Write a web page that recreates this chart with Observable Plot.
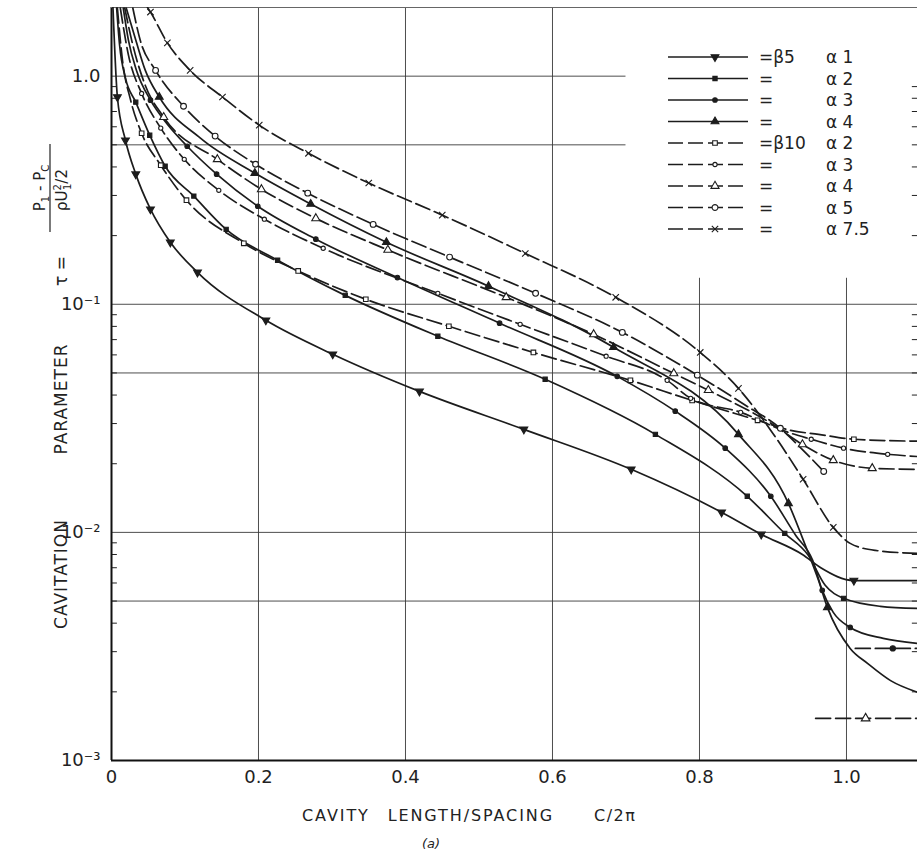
<!DOCTYPE html>
<html>
<head>
<meta charset="utf-8">
<script src="https://cdn.jsdelivr.net/npm/d3@7"></script>
<script src="https://cdn.jsdelivr.net/npm/@observablehq/plot@0.6"></script>
<style>
html,body{margin:0;padding:0;background:#fff;overflow:hidden;}
#chart svg{display:block;}
</style>
</head>
<body>
<div id="chart"></div>
<script>
// ---------- axis / grid values ----------
const xTicks = [0, 0.2, 0.4, 0.6, 0.8, 1.0];
const xTickLabels = ["0", "0.2", "0.4", "0.6", "0.8", "1.0"];
const yTicks = [1, 0.1, 0.01, 0.001];
const yTickLabels = ["1.0", "10\u207B\u00B9", "10\u207B\u00B2", "10\u207B\u00B3"];
const xGrid = [0.2, 0.4, 0.6, 0.8, 1.0];
const yGrid = [1, 0.5, 0.1, 0.05, 0.01, 0.005];
const xDomain = [0, 1.0966];
const yDomain = [0.001, 2];

// ---------- series (beta 5 : solid, beta 10 : dashed) ----------
const b5a1X = [0.002, 0.008, 0.019, 0.033, 0.053, 0.080, 0.117, 0.210, 0.301, 0.419, 0.561, 0.707, 0.830, 0.884, 0.940, 0.965, 1.010, 1.097];
const b5a1Y = [2.0, 0.81, 0.524, 0.372, 0.261, 0.187, 0.138, 0.0851, 0.0604, 0.0415, 0.0283, 0.0189, 0.01225, 0.0098, 0.0080, 0.0070, 0.00615, 0.00615];
const b5a1M = [0, 1, 1, 1, 1, 1, 1, 1, 1, 1, 1, 1, 1, 1, 0, 0, 1, 0];

const b5a2X = [0.007, 0.011, 0.019, 0.033, 0.052, 0.073, 0.112, 0.156, 0.226, 0.318, 0.444, 0.590, 0.740, 0.865, 0.916, 0.948, 0.971, 0.996, 1.046, 1.097];
const b5a2Y = [1.99, 1.37, 0.98, 0.769, 0.551, 0.403, 0.298, 0.213, 0.156, 0.1094, 0.0724, 0.0469, 0.0269, 0.0144, 0.0099, 0.00793, 0.00586, 0.00514, 0.00474, 0.00464];
const b5a2M = [0, 0, 0, 1, 1, 1, 1, 1, 1, 1, 1, 1, 1, 1, 1, 0, 0, 1, 0, 0];

const b5a3X = [0.016, 0.023, 0.034, 0.053, 0.076, 0.103, 0.143, 0.199, 0.278, 0.389, 0.528, 0.688, 0.767, 0.835, 0.897, 0.931, 0.954, 0.967, 0.982, 1.005, 1.050, 1.097];
const b5a3Y = [1.99, 1.44, 1.06, 0.785, 0.616, 0.493, 0.372, 0.269, 0.193, 0.131, 0.0826, 0.0483, 0.0340, 0.0234, 0.0144, 0.0097, 0.00754, 0.00557, 0.00446, 0.00383, 0.00343, 0.00326];
const b5a3M = [0, 0, 0, 1, 0, 1, 1, 1, 1, 1, 1, 1, 1, 1, 1, 0, 0, 1, 0, 1, 0, 0];

const b5a4X = [0.020, 0.033, 0.046, 0.065, 0.121, 0.195, 0.271, 0.374, 0.513, 0.683, 0.853, 0.921, 0.944, 0.962, 0.974, 1.005, 1.029, 1.060, 1.097];
const b5a4Y = [1.99, 1.44, 1.06, 0.81, 0.535, 0.376, 0.275, 0.187, 0.120, 0.0648, 0.0269, 0.0134, 0.00877, 0.00615, 0.00469, 0.00310, 0.00266, 0.00224, 0.00199];
const b5a4M = [0, 0, 0, 1, 0, 1, 1, 1, 1, 1, 1, 1, 0, 0, 1, 0, 0, 0, 0];

const b10a2X = [0.008, 0.015, 0.026, 0.041, 0.067, 0.102, 0.180, 0.254, 0.346, 0.459, 0.574, 0.706, 0.790, 0.879, 0.924, 0.962, 1.010, 1.097];
const b10a2Y = [1.99, 1.17, 0.785, 0.562, 0.407, 0.286, 0.185, 0.140, 0.1052, 0.0801, 0.0615, 0.0464, 0.0379, 0.0310, 0.0280, 0.0269, 0.0256, 0.0251];
const b10a2M = [0, 0, 0, 1, 1, 1, 1, 1, 1, 1, 1, 1, 1, 1, 0, 0, 1, 0];

const b10a3X = [0.012, 0.023, 0.041, 0.067, 0.099, 0.146, 0.208, 0.288, 0.444, 0.556, 0.673, 0.756, 0.788, 0.856, 0.920, 0.952, 0.996, 1.056, 1.097];
const b10a3Y = [1.99, 1.24, 0.84, 0.592, 0.432, 0.316, 0.236, 0.176, 0.1117, 0.0817, 0.0592, 0.0464, 0.0387, 0.0336, 0.0275, 0.0256, 0.0234, 0.0220, 0.0215];
const b10a3M = [0, 0, 1, 1, 1, 1, 1, 1, 1, 1, 1, 1, 1, 1, 0, 1, 1, 1, 0];

const b10a4X = [0.018, 0.029, 0.046, 0.071, 0.144, 0.204, 0.278, 0.376, 0.537, 0.656, 0.765, 0.812, 0.897, 0.940, 0.982, 1.035, 1.097];
const b10a4Y = [1.99, 1.37, 0.91, 0.661, 0.432, 0.319, 0.238, 0.173, 0.1073, 0.0738, 0.0498, 0.0420, 0.0301, 0.0243, 0.0207, 0.0191, 0.0189];
const b10a4M = [0, 0, 0, 1, 1, 1, 1, 1, 1, 1, 1, 1, 0, 1, 1, 1, 0];

const b10a5X = [0.029, 0.039, 0.060, 0.098, 0.141, 0.196, 0.267, 0.356, 0.460, 0.577, 0.695, 0.797, 0.863, 0.910, 0.937, 0.969];
const b10a5Y = [1.99, 1.44, 1.06, 0.738, 0.546, 0.411, 0.307, 0.224, 0.161, 0.1117, 0.0753, 0.0489, 0.0360, 0.0286, 0.0236, 0.0185];
const b10a5M = [0, 0, 1, 1, 1, 1, 1, 1, 1, 1, 1, 1, 0, 1, 0, 1];

const b10a75X = [0.049, 0.053, 0.076, 0.107, 0.151, 0.201, 0.268, 0.350, 0.450, 0.563, 0.686, 0.801, 0.853, 0.897, 0.941, 0.982, 1.005, 1.039, 1.097];
const b10a75Y = [2.0, 1.91, 1.40, 1.06, 0.81, 0.610, 0.459, 0.340, 0.246, 0.167, 0.1073, 0.0615, 0.0428, 0.0280, 0.0171, 0.01052, 0.00895, 0.00834, 0.00809];
const b10a75M = [0, 1, 1, 1, 1, 1, 1, 1, 1, 1, 1, 1, 1, 0, 1, 1, 0, 0, 0];

// short dashed asymptote segments at lower right
const asym1X = [1.012, 1.063, 1.097];
const asym1Y = [0.00310, 0.00310, 0.00310];
const asym1M = [0, 1, 0];
const asym2X = [0.958, 1.026, 1.097];
const asym2Y = [0.00153, 0.00153, 0.00153];
const asym2M = [0, 1, 0];

const seriesKeys = ["b5a1", "b5a2", "b5a3", "b5a4", "b10a2", "b10a3", "b10a4", "b10a5", "b10a75"];
const seriesBeta = ["5", "", "", "", "10", "", "", "", ""];
const seriesAlpha = ["1", "2", "3", "4", "2", "3", "4", "5", "7.5"];

const data = {
  b5a1: {x: b5a1X, y: b5a1Y, m: b5a1M},
  b5a2: {x: b5a2X, y: b5a2Y, m: b5a2M},
  b5a3: {x: b5a3X, y: b5a3Y, m: b5a3M},
  b5a4: {x: b5a4X, y: b5a4Y, m: b5a4M},
  b10a2: {x: b10a2X, y: b10a2Y, m: b10a2M},
  b10a3: {x: b10a3X, y: b10a3Y, m: b10a3M},
  b10a4: {x: b10a4X, y: b10a4Y, m: b10a4M},
  b10a5: {x: b10a5X, y: b10a5Y, m: b10a5M},
  b10a75: {x: b10a75X, y: b10a75Y, m: b10a75M},
  asym1: {x: asym1X, y: asym1Y, m: asym1M},
  asym2: {x: asym2X, y: asym2Y, m: asym2M}
};

// ---------- styles ----------
const INK = "#1c1c1c";
const DASH = "15,5";
const styles = {
  b5a1: {dash: null, symbol: "triangle", rotate: 180, fill: INK, r: 2.9},
  b5a2: {dash: null, symbol: "square", fill: INK, r: 2.4},
  b5a3: {dash: null, symbol: "circle", fill: INK, r: 2.3},
  b5a4: {dash: null, symbol: "triangle", fill: INK, r: 2.9},
  b10a2: {dash: DASH, symbol: "square", fill: "#fff", r: 2.6},
  b10a3: {dash: DASH, symbol: "circle", fill: "#fff", r: 2.1},
  b10a4: {dash: DASH, symbol: "triangle", fill: "#fff", r: 3.0},
  b10a5: {dash: DASH, symbol: "circle", fill: "#fff", r: 2.9},
  b10a75: {dash: DASH, symbol: "times", fill: "none", r: 3.0},
  asym1: {dash: DASH, symbol: "circle", fill: INK, r: 2.6},
  asym2: {dash: DASH, symbol: "triangle", fill: "#fff", r: 3.2}
};

const rowsFor = k => data[k].x.map((x, i) => ({k, x, y: data[k].y[i], m: data[k].m[i]}));

// minor log ticks
const minorTicks = [];
for (const e of [-3, -2, -1, 0]) for (let m = 2; m <= 9; m++) { const v = m * Math.pow(10, e); if (v < yDomain[1]) minorTicks.push(v); }

const marks = [
  Plot.ruleX(xGrid, {y1: yDomain[0], y2: d => d > 0.7 ? 0.13 : yDomain[1], stroke: "#3a3a3a", strokeWidth: 0.9}),
  Plot.ruleY(yGrid, {x1: 0, x2: d => d >= 0.5 ? 0.70 : xDomain[1], stroke: "#3a3a3a", strokeWidth: 0.9}),
  Plot.ruleY(minorTicks, {x1: 0, x2: 0.008, stroke: "#222", strokeWidth: 1}),
  Plot.ruleY(minorTicks, {x1: xDomain[1] - 0.007, x2: xDomain[1], stroke: "#222", strokeWidth: 1}),
  Plot.ruleX([0], {stroke: "#111", strokeWidth: 2}),
  Plot.ruleY([yDomain[0]], {stroke: "#111", strokeWidth: 2}),
  Plot.ruleY([yDomain[1]], {stroke: "#666", strokeWidth: 1.2}),
  Plot.axisX(xTicks, {tickSize: 0, tickPadding: 10, fontSize: 18, tickFormat: d => xTickLabels[xTicks.indexOf(d)], label: null}),
  Plot.axisY(yTicks, {tickSize: 0, tickPadding: 11, fontSize: 18, tickFormat: d => yTickLabels[yTicks.indexOf(d)], label: null})
];

const allKeys = [...seriesKeys, "asym1", "asym2"];
for (const k of allKeys) {
  const st = styles[k];
  marks.push(Plot.line(rowsFor(k), {x: "x", y: "y", curve: "monotone-x", stroke: INK, strokeWidth: 1.7, strokeDasharray: st.dash, clip: true}));
}
for (const k of allKeys) {
  const st = styles[k];
  marks.push(Plot.dot(rowsFor(k).filter(d => d.m), {x: "x", y: "y", symbol: st.symbol, r: st.r, fill: st.fill, stroke: INK, strokeWidth: 1.1, rotate: st.rotate || 0}));
}

const plot = Plot.plot({
  width: 917,
  height: 859,
  marginTop: 7,
  marginBottom: 99,
  marginLeft: 111,
  marginRight: 0,
  x: {domain: xDomain},
  y: {type: "log", domain: yDomain},
  style: {fontFamily: "DejaVu Sans", fontSize: "17px", color: "#222", background: "#fff"},
  marks
});
document.getElementById("chart").appendChild(plot);

// ---------- legend ----------
const svg = d3.select(plot);
const symMap = {triangle: d3.symbolTriangle, square: d3.symbolSquare, circle: d3.symbolCircle, times: d3.symbolTimes};
const lg = svg.append("g").attr("font-family", "DejaVu Sans").attr("fill", "#222").attr("font-size", 17).attr("text-anchor", "start");
seriesKeys.forEach((k, i) => {
  const st = styles[k];
  const y = 57 + i * 21.5;
  lg.append("line").attr("x1", 668).attr("x2", 748).attr("y1", y).attr("y2", y)
    .attr("stroke", INK).attr("stroke-width", 1.7).attr("stroke-dasharray", st.dash);
  lg.append("path").attr("d", d3.symbol(symMap[st.symbol], Math.PI * st.r * st.r)())
    .attr("transform", `translate(715,${y}) rotate(${st.rotate || 0})`)
    .attr("fill", st.fill).attr("stroke", INK).attr("stroke-width", 1.1);
  lg.append("text").attr("x", 759).attr("y", y).attr("dy", "0.36em").attr("text-anchor", "start")
    .text("=" + (seriesBeta[i] ? "\u03B2" + seriesBeta[i] : ""));
  lg.append("text").attr("x", 826).attr("y", y).attr("dy", "0.36em").attr("text-anchor", "start")
    .text("\u03B1 " + seriesAlpha[i]);
});

// ---------- axis titles ----------
const tt = svg.append("g").attr("font-family", "DejaVu Sans").attr("fill", "#222");
tt.append("text").attr("x", 428).attr("y", 821).attr("text-anchor", "middle").attr("font-size", 16)
  .attr("letter-spacing", 1.9).text("CAVITY\u2003LENGTH/SPACING");
tt.append("text").attr("x", 594).attr("y", 821).attr("text-anchor", "start").attr("font-size", 16).attr("letter-spacing", 1.5).text("C/2\u03C0");
tt.append("text").attr("x", 431).attr("y", 848).attr("text-anchor", "middle").attr("font-size", 13)
  .attr("font-style", "italic").text("(a)");

const yt = tt.append("g").attr("font-size", 17);
yt.append("text").attr("transform", "translate(61,574) rotate(-90)").attr("dy", "0.36em").attr("text-anchor", "middle").attr("letter-spacing", 1).text("CAVITATION");
yt.append("text").attr("transform", "translate(61,399) rotate(-90)").attr("dy", "0.36em").attr("text-anchor", "middle").attr("letter-spacing", 1).text("PARAMETER");
yt.append("text").attr("transform", "translate(61,271) rotate(-90)").attr("dy", "0.36em").attr("text-anchor", "middle").text("\u03C4 =");
// fraction
const num = yt.append("text").attr("transform", "translate(40,188) rotate(-90)").attr("dy", "0.36em").attr("text-anchor", "middle").attr("font-size", 15);
num.append("tspan").text("P");
num.append("tspan").attr("font-size", 10).attr("dy", 4).text("1");
num.append("tspan").attr("dy", -4).text(" - P");
num.append("tspan").attr("font-size", 10).attr("dy", 4).text("C");
yt.append("line").attr("x1", 50).attr("x2", 50).attr("y1", 144).attr("y2", 232).attr("stroke", "#222").attr("stroke-width", 1.2);
const den = yt.append("text").attr("transform", "translate(62,190) rotate(-90)").attr("dy", "0.36em").attr("text-anchor", "middle").attr("font-size", 15);
den.append("tspan").text("\u03C1U");
den.append("tspan").attr("font-size", 10).attr("dy", -6).text("2");
den.append("tspan").attr("font-size", 10).attr("dx", -6).attr("dy", 10).text("1");
den.append("tspan").attr("dy", -4).text("/2");
</script>
</body>
</html>
